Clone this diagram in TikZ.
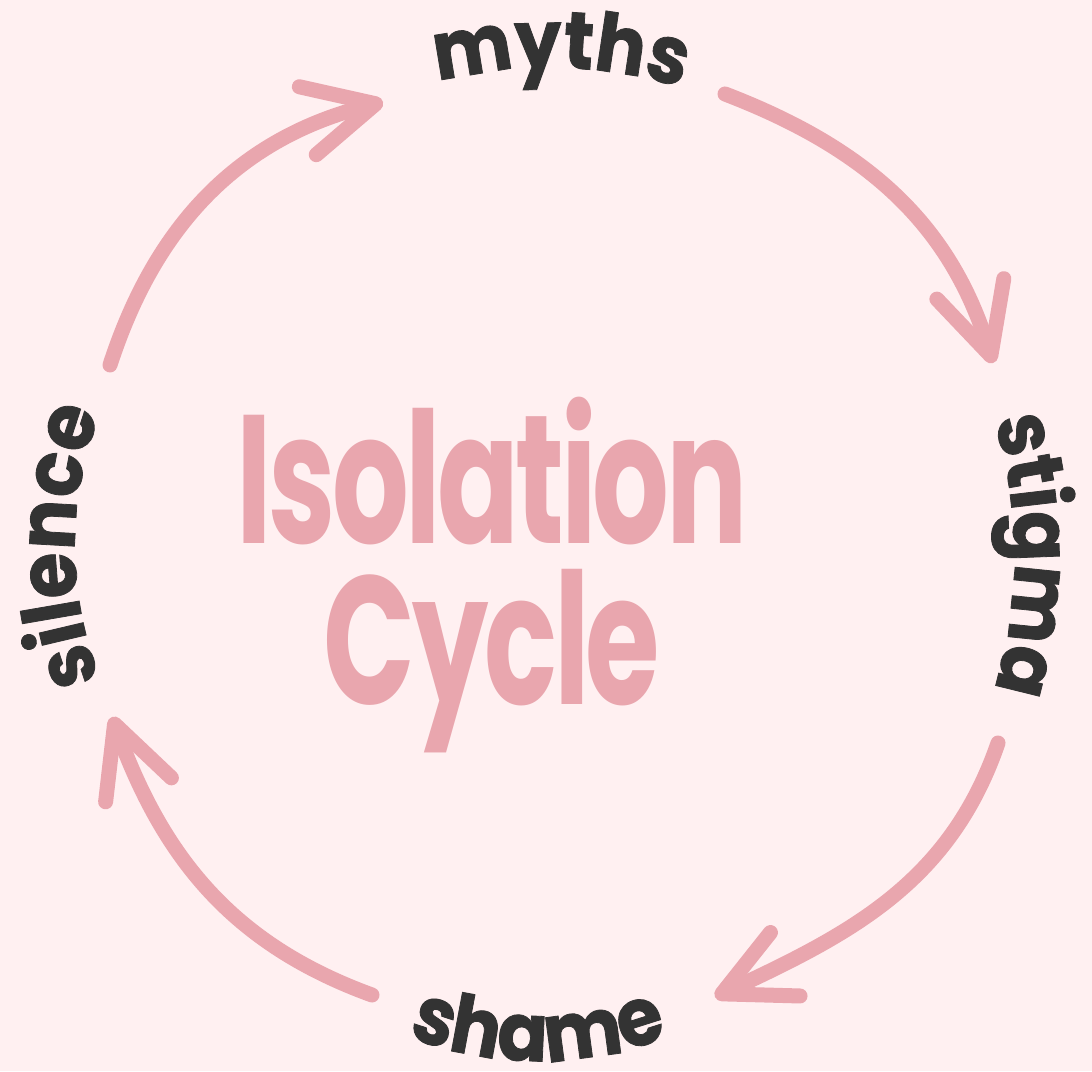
\documentclass[tikz,border=0pt]{standalone}
\usepackage{fontspec}
\usetikzlibrary{arrows.meta,decorations.text,positioning}
\newfontfamily\titlefont{Poppins}[FakeStretch=0.66, LetterSpace=-2]
\newfontfamily\wordfont{Poppins}[FakeStretch=0.92, LetterSpace=-8, BoldFeatures={FakeBold=1}]
\definecolor{bgpink}{HTML}{FFF0F1}
\definecolor{cyclepink}{HTML}{E9A6AE}
\definecolor{wordgray}{HTML}{333333}
\newcommand\wordformat{\wordfont\bfseries\fontsize{23}{23}\selectfont\color{wordgray}}
\tikzstyle{line} = [draw=cyclepink, line width=0.15cm, line cap=round, -{Straight Barb[length=7mm,width=7mm,round]}]
\tikzstyle{title} = [text=cyclepink, font=\titlefont\bfseries\fontsize{52}{52}\selectfont, inner sep=0pt]
\tikzstyle{word} = [decorate, decoration={text along path, text align=center}]

\begin{document}
\begin{tikzpicture}
        \fill[bgpink] (0,0) rectangle (10.92,10.71);
        \useasboundingbox (0,0) rectangle (10.92,10.71);
        % centre
        \node[title, anchor=base] (isolation) at (4.92,5.27) {Isolation};
        \node[title, below=1.6cm of isolation.base, anchor=base] (cycle) {Cycle};
        % arc centres for the words
        \coordinate (mythsarc) at (5.50,5.53);
        \coordinate (stigmaarc) at (5.54,5.16);
        \coordinate (shamearc) at (5.38,3.70);
        \coordinate (silencearc) at (4.35,5.25);
        \path[word, decoration={text={|\wordformat|myths}}] ([shift={(128.7:4.5)}]mythsarc) arc[start angle=128.7, end angle=48.7, radius=4.5];
        \path[word, decoration={text={|\wordformat|stigma}}] ([shift={(40:4.6)}]stigmaarc) arc[start angle=40, end angle=-40, radius=4.6];
        \path[word, decoration={text={|\wordformat|shame}}] ([shift={(230:3.6)}]shamearc) arc[start angle=230, end angle=310, radius=3.6];
        \path[word, decoration={text={|\wordformat|silence}}] ([shift={(220:3.6)}]silencearc) arc[start angle=220, end angle=140, radius=3.6];
        % arrow ends
        \coordinate (s1) at (1.10,7.06);
        \coordinate (e1) at (3.83,9.69);
        \coordinate (s2) at (7.25,9.77);
        \coordinate (e2) at (9.93,7.08);
        \coordinate (s3) at (9.98,3.28);
        \coordinate (e3) at (7.15,0.74);
        \coordinate (s4) at (3.72,0.76);
        \coordinate (e4) at (1.12,3.54);
        \path[line] (s1) to[out=72, in=194] (e1);
        \path[line] (s2) to[out=-21, in=107] (e2);
        \path[line] (s3) to[out=251, in=25] (e3);
        \path[line] (s4) to[out=160, in=-70] (e4);
    \end{tikzpicture}
\end{document}
